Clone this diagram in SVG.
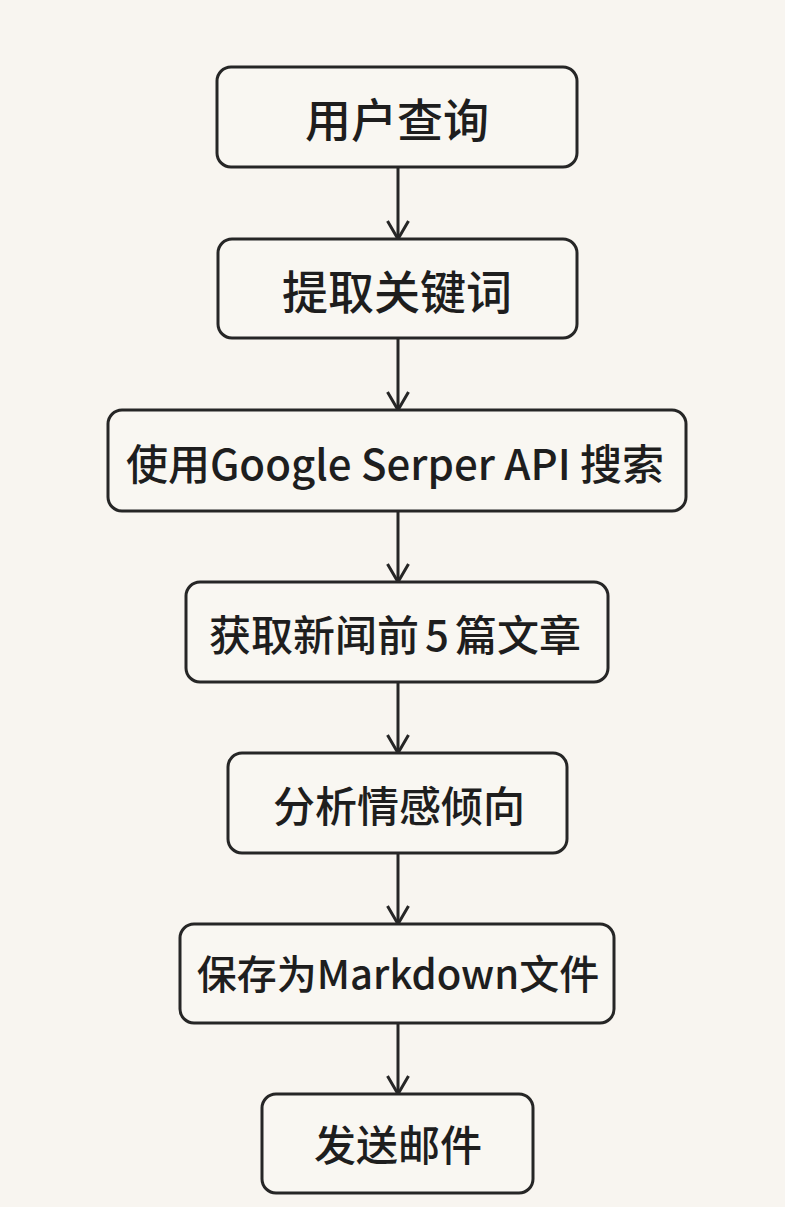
<svg xmlns="http://www.w3.org/2000/svg" width="785" height="1207" viewBox="0 0 785 1207">
<style>
.box{fill:#f9f7f2;stroke:#262626;stroke-width:3}
.lbl{font-family:"Noto Sans CJK SC","Noto Sans",sans-serif;font-weight:500;fill:#1e1e1e;text-anchor:middle;dominant-baseline:central}
.edge{stroke:#262626;stroke-width:3;fill:none}
</style>
<defs>
<marker id="arr" markerWidth="24" markerHeight="24" refX="20" refY="12" orient="auto" markerUnits="userSpaceOnUse" viewBox="0 0 24 24">
<path d="M2 1.5 L20 12 L2 22.5" fill="none" stroke="#262626" stroke-width="3"/>
</marker>
</defs>
<rect width="785" height="1207" fill="#f8f5f0"/>
<g id="edges">
<line class="edge" x1="398" y1="167" x2="398" y2="239" marker-end="url(#arr)"/>
<line class="edge" x1="398" y1="338" x2="398" y2="410" marker-end="url(#arr)"/>
<line class="edge" x1="398" y1="511" x2="398" y2="582" marker-end="url(#arr)"/>
<line class="edge" x1="398" y1="682" x2="398" y2="753" marker-end="url(#arr)"/>
<line class="edge" x1="398" y1="853" x2="398" y2="924" marker-end="url(#arr)"/>
<line class="edge" x1="398" y1="1023" x2="398" y2="1094" marker-end="url(#arr)"/>
</g>
<g id="n1"><rect class="box" x="217" y="67" width="360" height="100" rx="14"/><text class="lbl" x="397" y="117" font-size="46">用户查询</text></g>
<g id="n2"><rect class="box" x="218" y="239" width="359" height="99" rx="14"/><text class="lbl" x="397" y="289" font-size="46">提取关键词</text></g>
<g id="n3"><rect class="box" x="108" y="410" width="578" height="101" rx="14"/><text class="lbl" x="395" y="461" font-size="42">使用Google Serper API 搜索</text></g>
<g id="n4"><rect class="box" x="186" y="582" width="422" height="100" rx="14"/><text class="lbl" x="395" y="632" font-size="42">获取新闻前<tspan dx="6">5</tspan><tspan dx="6">篇文章</tspan></text></g>
<g id="n5"><rect class="box" x="228" y="753" width="339" height="100" rx="14"/><text class="lbl" x="399" y="803" font-size="42">分析情感倾向</text></g>
<g id="n6"><rect class="box" x="180" y="924" width="434" height="99" rx="14"/><text class="lbl" x="398" y="972" font-size="40">保存为Markdown文件</text></g>
<g id="n7"><rect class="box" x="262" y="1094" width="271" height="99" rx="14"/><text class="lbl" x="398" y="1142" font-size="42">发送邮件</text></g>
</svg>
